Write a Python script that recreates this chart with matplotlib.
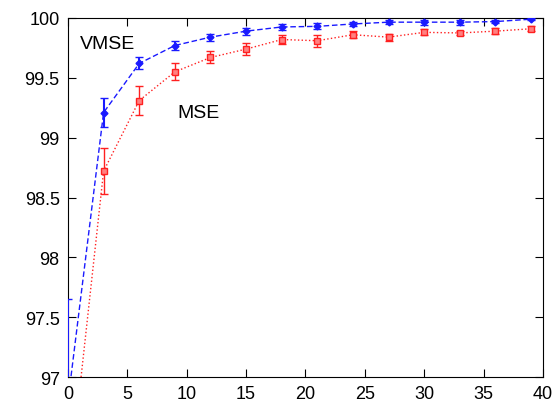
import matplotlib
matplotlib.use("Agg")
import matplotlib.pyplot as plt

plt.rcParams['font.family'] = ['Liberation Sans', 'DejaVu Sans']

x = [0, 3, 6, 9, 12, 15, 18, 21, 24, 27, 30, 33, 36, 39]
vmse = [96.80, 99.21, 99.62, 99.77, 99.84, 99.89, 99.925, 99.93, 99.95, 99.965, 99.965, 99.965, 99.97, 99.99]
vmse_err = [0.85, 0.12, 0.05, 0.04, 0.03, 0.03, 0.025, 0.025, 0.02, 0.015, 0.02, 0.02, 0.015, 0.01]
mse = [96.00, 98.72, 99.31, 99.55, 99.67, 99.74, 99.82, 99.81, 99.86, 99.84, 99.88, 99.875, 99.89, 99.91]
mse_err = [0.60, 0.19, 0.12, 0.07, 0.05, 0.05, 0.04, 0.05, 0.03, 0.03, 0.025, 0.02, 0.025, 0.02]

fig = plt.figure(figsize=(5.54, 4.10), dpi=100)
ax = fig.add_axes([0.1227, 0.078, 0.8573, 0.8757])

ax.errorbar(x, mse, yerr=mse_err, color='#ff2020', linestyle=':', linewidth=1.0,
            marker='s', markersize=4.5, markerfacecolor='#ff8080', markeredgecolor='#ff2020',
            capsize=3, elinewidth=1.0, capthick=1.0, zorder=3)
ax.errorbar(x, vmse, yerr=vmse_err, color='#1a1aff', linestyle=(0, (4, 2)), linewidth=1.0,
            marker='D', markersize=3.5, markerfacecolor='#1a1aff', markeredgecolor='#1a1aff',
            capsize=3, elinewidth=1.5, capthick=1.0, zorder=3)

ax.set_xlim(0, 40)
ax.set_ylim(97, 100)
ax.set_xticks(range(0, 41, 5))
ax.set_yticks([97, 97.5, 98, 98.5, 99, 99.5, 100])
ax.set_yticklabels(['97', '97.5', '98', '98.5', '99', '99.5', '100'])
ax.tick_params(direction='in', top=True, right=True, length=6, labelsize=13, pad=6)
for s in ax.spines.values():
    s.set_zorder(1)

ax.text(1.0, 99.79, 'VMSE', fontsize=14, va='center', ha='left')
ax.text(9.2, 99.21, 'MSE', fontsize=14, va='center', ha='left')

fig.savefig('out.png', dpi=100)
